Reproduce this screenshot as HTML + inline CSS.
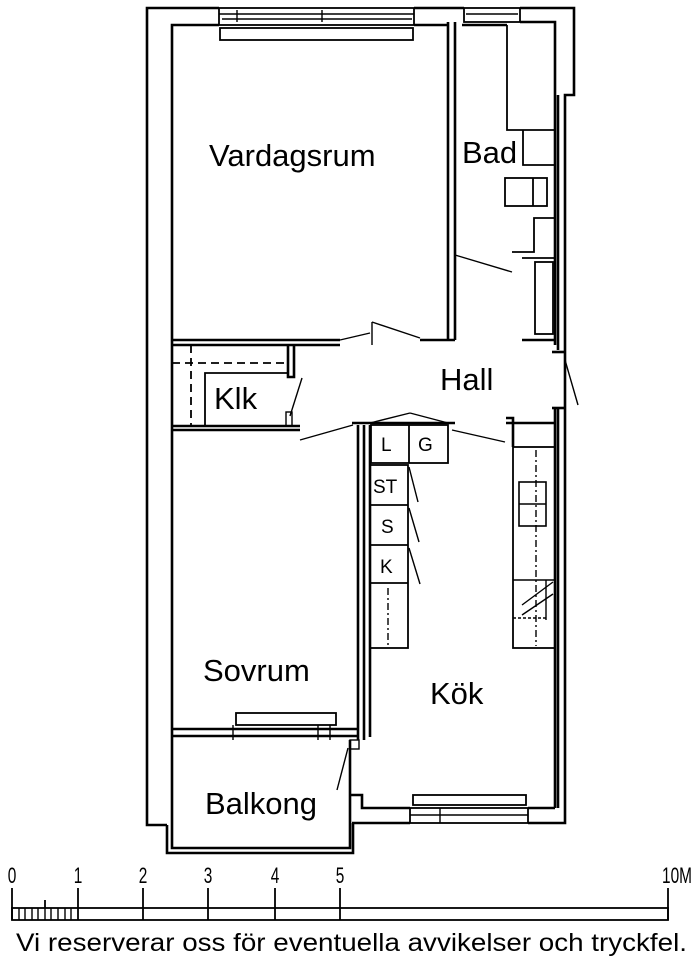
<!DOCTYPE html>
<html><head><meta charset="utf-8"><style>
html,body{margin:0;padding:0;background:#fff;}
svg{display:block;}
text{font-family:"Liberation Sans",Arial,sans-serif;fill:#000;}
</style></head><body>
<svg width="700" height="963" viewBox="0 0 700 963" xmlns="http://www.w3.org/2000/svg">
<g fill="none" stroke="#000" stroke-width="2.6">
<!-- outer walls -->
<polyline points="219,8 147,8 147,825 167,825"/>
<polyline points="414,8 464,8"/>
<polyline points="520,8 574,8 574,95 565,95 565,823 528,823"/>
<polyline points="410,823 352,823"/>
<!-- inner left -->
<polyline points="219,25 172,25 172,737"/>
<line x1="414" y1="25" x2="448" y2="25"/>
<polyline points="462,25 507,25"/>
<polyline points="520,22 555,22 555,345"/>
<line x1="555" y1="408" x2="555" y2="808"/>
<line x1="558" y1="95" x2="558" y2="350"/>
<line x1="558" y1="408" x2="558" y2="808"/>
<!-- top window -->
<rect x="219" y="8" width="195" height="17" stroke-width="1.8"/>
<line x1="219" y1="14" x2="414" y2="14" stroke-width="1.4"/>
<line x1="222" y1="19" x2="412" y2="19" stroke-width="1.4"/>
<line x1="237" y1="10" x2="237" y2="22" stroke-width="1.4"/>
<line x1="322" y1="10" x2="322" y2="22" stroke-width="1.4"/>
<rect x="220" y="28" width="193" height="12" stroke-width="1.8"/>
<!-- bad window -->
<rect x="464" y="8" width="56" height="14" stroke-width="1.8"/>
<line x1="466" y1="14" x2="518" y2="14" stroke-width="1.4"/>
<!-- vardagsrum right wall -->
<line x1="448" y1="22" x2="448" y2="340"/>
<line x1="455" y1="22" x2="455" y2="340"/>
<line x1="455" y1="340" x2="420" y2="340"/>
<!-- vardagsrum bottom wall -->
<line x1="172" y1="340" x2="340" y2="340"/>
<line x1="172" y1="345" x2="340" y2="345"/>
<line x1="340" y1="340" x2="370" y2="333" stroke-width="1.4"/>
<line x1="372" y1="322" x2="372" y2="345" stroke-width="1.4"/>
<line x1="372" y1="322" x2="420" y2="338" stroke-width="1.4"/>
<!-- bad fixtures -->
<polyline points="507,25 507,130 555,130" stroke-width="1.8"/>
<polyline points="523,130 523,165 555,165" stroke-width="1.8"/>
<rect x="505" y="178" width="42" height="28" stroke-width="1.8"/>
<line x1="533" y1="178" x2="533" y2="206" stroke-width="1.8"/>
<polyline points="555,218 534,218 534,252 512,252" stroke-width="1.8"/>
<line x1="455" y1="255" x2="512" y2="272" stroke-width="1.4"/>
<rect x="535" y="262" width="18" height="72" stroke-width="1.8"/>
<polyline points="522,258 555,258" stroke-width="1.8"/>
<line x1="522" y1="340" x2="555" y2="340"/>
<!-- entrance door -->
<line x1="565" y1="360" x2="578" y2="405" stroke-width="1.4"/>
<line x1="552" y1="352" x2="565" y2="352"/>
<line x1="552" y1="408" x2="565" y2="408"/>
<!-- klk -->
<line x1="172" y1="426" x2="300" y2="426"/>
<line x1="172" y1="430" x2="300" y2="430"/>
<polyline points="288,345 288,377 294,377 294,345"/>
<line x1="172" y1="363" x2="288" y2="363" stroke-dasharray="8,5" stroke-width="1.8"/>
<line x1="191" y1="345" x2="191" y2="426" stroke-dasharray="8,5" stroke-width="1.8"/>
<polyline points="205,426 205,373 288,373" stroke-width="1.8"/>
<line x1="290" y1="416" x2="302" y2="378" stroke-width="1.4"/>
<rect x="286" y="412" width="6" height="14" stroke-width="1.4"/>
<!-- hall lower / doors -->
<line x1="300" y1="440" x2="353" y2="425" stroke-width="1.4"/>
<line x1="352" y1="423" x2="455" y2="423"/>
<line x1="370" y1="423" x2="410" y2="413" stroke-width="1.4"/>
<line x1="410" y1="413" x2="448" y2="423" stroke-width="1.4"/>
<line x1="452" y1="430" x2="505" y2="442" stroke-width="1.4"/>
<polyline points="506,418 513,418 513,447"/>
<line x1="506" y1="423" x2="555" y2="423"/>
<!-- kitchen left wall -->
<line x1="358" y1="425" x2="358" y2="740"/>
<line x1="364" y1="425" x2="364" y2="740"/>
<line x1="370" y1="425" x2="370" y2="737"/>
<!-- L G -->
<rect x="371" y="425" width="77" height="38" stroke-width="1.8"/>
<line x1="409" y1="425" x2="409" y2="463" stroke-width="1.8"/>
<!-- ST S K -->
<rect x="370" y="465" width="38" height="183" stroke-width="1.8"/>
<line x1="370" y1="505" x2="408" y2="505" stroke-width="1.8"/>
<line x1="370" y1="545" x2="408" y2="545" stroke-width="1.8"/>
<line x1="370" y1="583" x2="408" y2="583" stroke-width="1.8"/>
<line x1="388" y1="588" x2="388" y2="648" stroke-dasharray="7,3,2,3" stroke-width="1.4"/>
<line x1="409" y1="467" x2="418" y2="502" stroke-width="1.4"/>
<line x1="409" y1="508" x2="419" y2="542" stroke-width="1.4"/>
<line x1="409" y1="548" x2="420" y2="584" stroke-width="1.4"/>
<!-- right counter -->
<rect x="513" y="447" width="42" height="201" stroke-width="1.8"/>
<rect x="519" y="482" width="27" height="44" stroke-width="1.6"/>
<line x1="519" y1="504" x2="546" y2="504" stroke-width="1.4"/>
<line x1="536" y1="450" x2="536" y2="646" stroke-dasharray="7,3,2,3" stroke-width="1.4"/>
<line x1="513" y1="580" x2="555" y2="580" stroke-width="1.6"/>
<line x1="513" y1="618" x2="546" y2="618" stroke-width="1.4" stroke-dasharray="3,2"/>
<line x1="522" y1="605" x2="553" y2="582" stroke-width="1.4"/>
<line x1="522" y1="615" x2="553" y2="594" stroke-width="1.4"/>
<line x1="546" y1="580" x2="546" y2="620" stroke-width="1.4"/>
<!-- sovrum window / balcony -->
<rect x="236" y="713" width="100" height="12" stroke-width="1.8"/>
<line x1="172" y1="729" x2="358" y2="729"/>
<line x1="172" y1="736" x2="358" y2="736"/>
<line x1="233" y1="725" x2="233" y2="740" stroke-width="1.4"/>
<line x1="318" y1="725" x2="318" y2="740" stroke-width="1.4"/>
<line x1="330" y1="725" x2="330" y2="740" stroke-width="1.4"/>
<polyline points="172,737 172,848 350,848 350,740"/>
<polyline points="167,825 167,853 353,853 353,823"/>
<line x1="348" y1="748" x2="337" y2="790" stroke-width="1.4"/>
<rect x="350" y="740" width="9" height="9" stroke-width="1.4"/>
<!-- kitchen bottom -->
<polyline points="350,795 362,795 362,808 410,808"/>
<line x1="528" y1="808" x2="555" y2="808"/>
<rect x="410" y="808" width="118" height="15" stroke-width="1.8"/>
<line x1="410" y1="815" x2="528" y2="815" stroke-width="1.4"/>
<line x1="440" y1="808" x2="440" y2="823" stroke-width="1.4"/>
<rect x="413" y="795" width="113" height="10" stroke-width="1.8"/>
<!-- scale -->
<rect x="12" y="908" width="656" height="12" stroke-width="1.8"/>
<g stroke-width="1.8">
<line x1="12" y1="888" x2="12" y2="920"/>
<line x1="78" y1="888" x2="78" y2="920"/>
<line x1="143" y1="888" x2="143" y2="920"/>
<line x1="208" y1="888" x2="208" y2="920"/>
<line x1="275" y1="888" x2="275" y2="920"/>
<line x1="340" y1="888" x2="340" y2="920"/>
<line x1="668" y1="888" x2="668" y2="920"/>
<line x1="45" y1="900" x2="45" y2="908"/>
</g>
<g stroke-width="1.4">
<line x1="19" y1="908" x2="19" y2="920"/><line x1="25" y1="908" x2="25" y2="920"/>
<line x1="32" y1="908" x2="32" y2="920"/><line x1="38" y1="908" x2="38" y2="920"/>
<line x1="45" y1="908" x2="45" y2="920"/><line x1="51" y1="908" x2="51" y2="920"/>
<line x1="58" y1="908" x2="58" y2="920"/><line x1="65" y1="908" x2="65" y2="920"/>
<line x1="71" y1="908" x2="71" y2="920"/>
</g>
</g>
<g font-size="31">
<text x="209" y="166">Vardagsrum</text>
<text x="462" y="163">Bad</text>
<text x="440" y="390">Hall</text>
<text x="214" y="409">Klk</text>
<text x="203" y="681">Sovrum</text>
<text x="430" y="704">Kök</text>
<text x="205" y="814">Balkong</text>
</g>
<g font-size="19">
<text x="381" y="451">L</text>
<text x="418" y="451">G</text>
<text x="373" y="493">ST</text>
<text x="381" y="533">S</text>
<text x="380" y="573">K</text>
</g>
<g font-size="22" text-anchor="middle">
<text x="12" y="883" transform="translate(12,0) scale(0.7,1) translate(-12,0)">0</text>
<text x="78" y="883" transform="translate(78,0) scale(0.7,1) translate(-78,0)">1</text>
<text x="143" y="883" transform="translate(143,0) scale(0.7,1) translate(-143,0)">2</text>
<text x="208" y="883" transform="translate(208,0) scale(0.7,1) translate(-208,0)">3</text>
<text x="275" y="883" transform="translate(275,0) scale(0.7,1) translate(-275,0)">4</text>
<text x="340" y="883" transform="translate(340,0) scale(0.7,1) translate(-340,0)">5</text>
<text x="677" y="883" transform="translate(677,0) scale(0.7,1) translate(-677,0)">10M</text>
</g>
<text x="16" y="951" font-size="25" textLength="671" lengthAdjust="spacingAndGlyphs">Vi reserverar oss för eventuella avvikelser och tryckfel.</text>
</svg>
</body></html>
